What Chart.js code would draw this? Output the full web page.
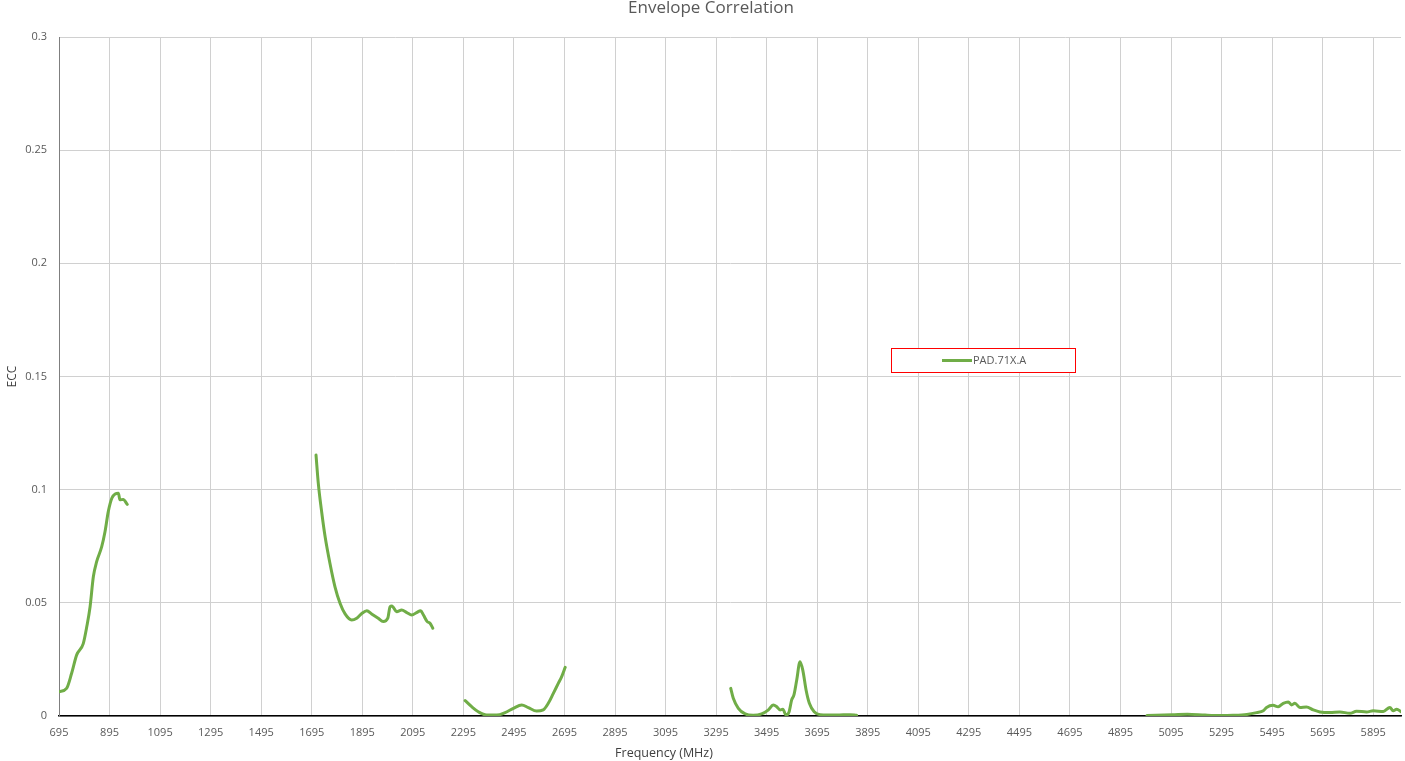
<!DOCTYPE html>
<html>
<head>
<meta charset="utf-8">
<script src="https://cdn.jsdelivr.net/npm/chart.js@4"></script>
<style>
  html, body { margin: 0; padding: 0; background: #fff; }
  #wrap { width: 1405px; height: 761px; position: relative; }
</style>
</head>
<body>
<div id="wrap"><canvas id="chart"></canvas></div>
<script>
// Envelope correlation (ECC) per band
var band1Freq = [695, 725, 745, 765, 791, 805, 818, 831, 844, 864, 877, 890, 904, 917, 930, 936, 949, 965];
var band1Ecc  = [0.0107, 0.0122, 0.0189, 0.027, 0.032, 0.0395, 0.0483, 0.0616, 0.0682, 0.0748, 0.0814, 0.0903, 0.0962, 0.0981, 0.0984, 0.0955, 0.0957, 0.0935];

var band2Freq = [1712, 1721, 1735, 1748, 1767, 1787, 1807, 1827, 1853, 1873, 1893, 1913, 1932, 1958, 1978, 1996, 2005, 2012, 2031, 2051, 2071, 2091, 2110, 2126, 2137, 2152, 2163, 2174];
var band2Ecc  = [0.1153, 0.1028, 0.0896, 0.0792, 0.0675, 0.0571, 0.0498, 0.0451, 0.0424, 0.0432, 0.0453, 0.0465, 0.0451, 0.0432, 0.0417, 0.0432, 0.0483, 0.0486, 0.0461, 0.0468, 0.0457, 0.0446, 0.0457, 0.0465, 0.0446, 0.0417, 0.041, 0.0388];

var band3Freq = [2302, 2328, 2354, 2387, 2427, 2460, 2493, 2526, 2552, 2585, 2611, 2631, 2651, 2671, 2684, 2698];
var band3Ecc  = [0.0068, 0.0041, 0.0019, 0.0004, 0.0004, 0.0015, 0.0034, 0.0049, 0.0037, 0.0022, 0.0027, 0.0056, 0.01, 0.0145, 0.0174, 0.0215];

var band4Freq = [3353, 3363, 3383, 3410, 3442, 3475, 3502, 3521, 3535, 3548, 3559, 3572, 3584, 3594, 3603, 3614, 3627, 3638, 3651, 3664, 3683, 3707, 3772, 3825, 3851];
var band4Ecc  = [0.0122, 0.0078, 0.0034, 0.0009, 0.0003, 0.0009, 0.0027, 0.0049, 0.0041, 0.0027, 0.003, 0.0004, 0.0019, 0.0071, 0.0093, 0.0159, 0.024, 0.0203, 0.0115, 0.0056, 0.0019, 0.0006, 0.0004, 0.0006, 0.0003];

var band5Freq = [5000, 5100, 5160, 5230, 5290, 5340, 5395, 5434, 5460, 5473, 5499, 5519, 5539, 5559, 5572, 5585, 5605, 5631, 5658, 5684, 5724, 5763, 5803, 5829, 5869, 5895, 5935, 5961, 5974, 5988, 6005];
var band5Ecc  = [0.0002, 0.0005, 0.0008, 0.0004, 0.0002, 0.0003, 0.0007, 0.0015, 0.0023, 0.0038, 0.0047, 0.0041, 0.0056, 0.0062, 0.0049, 0.0056, 0.0038, 0.004, 0.0027, 0.0018, 0.0015, 0.0018, 0.0012, 0.0021, 0.0018, 0.0023, 0.002, 0.0038, 0.0023, 0.003, 0.0019];

var xTicks = [695, 895, 1095, 1295, 1495, 1695, 1895, 2095, 2295, 2495, 2695, 2895, 3095, 3295, 3495, 3695, 3895, 4095, 4295, 4495, 4695, 4895, 5095, 5295, 5495, 5695, 5895];
var yTicks = [0, 0.05, 0.1, 0.15, 0.2, 0.25, 0.3];

var seriesName = 'PAD.71X.A';
var GREEN = '#70AD47';
var TEXT = '#595959';
var FONT = "'Open Sans', 'Liberation Sans', sans-serif";

// join the bands into one series, with a null between bands so the line breaks
function buildPoints() {
  var bands = [[band1Freq, band1Ecc], [band2Freq, band2Ecc], [band3Freq, band3Ecc], [band4Freq, band4Ecc], [band5Freq, band5Ecc]];
  var pts = [];
  bands.forEach(function(b, i) {
    if (i > 0) pts.push({ x: (pts[pts.length - 1].x + b[0][0]) / 2, y: null });
    b[0].forEach(function(f, j) { pts.push({ x: f, y: b[1][j] }); });
  });
  return pts;
}

var decorPlugin = {
  id: 'decor',
  afterDraw: function(chart) {
    var ctx = chart.ctx;
    ctx.save();
    // title
    ctx.fillStyle = TEXT;
    ctx.font = '17px ' + FONT;
    ctx.textAlign = 'center';
    ctx.textBaseline = 'middle';
    ctx.fillText('Envelope Correlation', 711, 8);
    // x axis title (Excel puts it a bit left of the plot centre)
    ctx.fillStyle = '#404040';
    ctx.font = '12.5px ' + FONT;
    ctx.fillText('Frequency (MHz)', 664, 753);
    // legend box
    ctx.fillStyle = '#fff';
    ctx.fillRect(891.5, 348.5, 184, 24);
    ctx.strokeStyle = '#ff0000';
    ctx.lineWidth = 1;
    ctx.strokeRect(891.5, 348.5, 184, 24);
    ctx.strokeStyle = GREEN;
    ctx.lineWidth = 3;
    ctx.beginPath();
    ctx.moveTo(942, 360.5);
    ctx.lineTo(972, 360.5);
    ctx.stroke();
    ctx.fillStyle = TEXT;
    ctx.font = '11px ' + FONT;
    ctx.textAlign = 'left';
    ctx.fillText(chart.data.datasets[0].label, 973, 361);
    ctx.restore();
  }
};

new Chart(document.getElementById('chart').getContext('2d'), {
  type: 'line',
  data: {
    datasets: [{
      label: seriesName,
      data: buildPoints(),
      borderColor: GREEN,
      backgroundColor: GREEN,
      borderWidth: 3,
      pointRadius: 0,
      cubicInterpolationMode: 'monotone',
      borderJoinStyle: 'round',
      borderCapStyle: 'round',
      spanGaps: false,
      fill: false
    }]
  },
  options: {
    responsive: true,
    maintainAspectRatio: false,
    animation: false,
    layout: { padding: { top: 37, right: 4, bottom: 0, left: 0 } },
    plugins: {
      legend: { display: false },
      title: { display: false },
      tooltip: { enabled: false }
    },
    scales: {
      x: {
        type: 'linear',
        min: 695,
        max: 6005,
        afterBuildTicks: function(s) { s.ticks = xTicks.map(function(v) { return { value: v }; }); },
        afterFit: function(s) { s.height = 45; },
        grid: { color: '#d0d0d0', drawTicks: false },
        border: { color: '#000', width: 1.5 },
        ticks: {
          autoSkip: false, maxRotation: 0, padding: 10, color: TEXT,
          font: { family: FONT, size: 11 },
          callback: function(v) { return String(v); }
        }
      },
      y: {
        min: 0,
        max: 0.3,
        afterBuildTicks: function(s) { s.ticks = yTicks.map(function(v) { return { value: v }; }); },
        afterFit: function(s) { s.width = 59; },
        grid: { color: '#d0d0d0', drawTicks: false },
        border: { color: '#7f7f7f', width: 1 },
        ticks: {
          padding: 12, color: TEXT,
          font: { family: FONT, size: 11 },
          callback: function(v) { return String(parseFloat(v.toFixed(2))); }
        },
        title: {
          display: true, text: 'ECC', color: '#404040',
          font: { family: FONT, size: 12 }, padding: { top: 5, bottom: 0 }
        }
      }
    }
  },
  plugins: [decorPlugin]
});
</script>
</body>
</html>
